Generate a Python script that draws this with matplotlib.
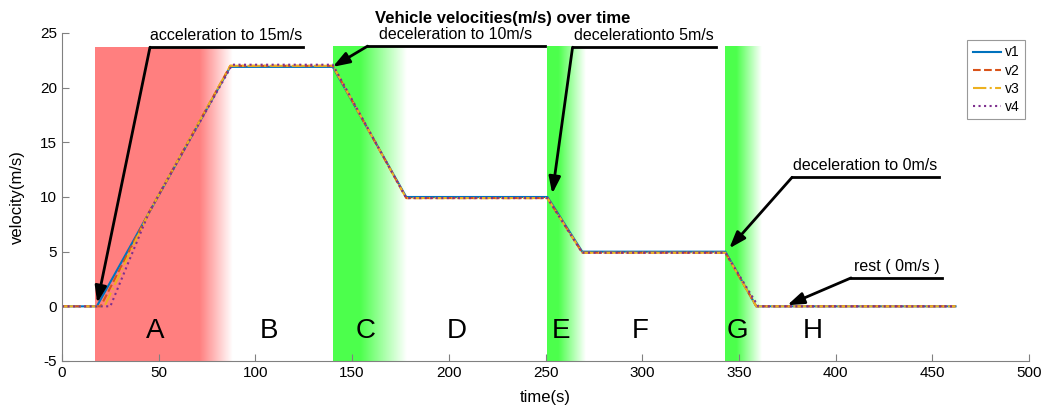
import numpy as np
import matplotlib.pyplot as plt

plt.rcParams['font.family'] = ['Liberation Sans', 'DejaVu Sans']
plt.rcParams['axes.unicode_minus'] = False

# velocity breakpoints (time in s, velocity in m/s)
t_v1 = [0, 18, 87, 140, 178, 251, 269, 343, 359, 462]
v_v1 = [0, 0, 21.9, 21.9, 10, 10, 5, 5, 0, 0]
t_v2 = [0, 20, 45, 87, 140, 178, 251, 269, 343, 359, 462]
v_v2 = [0, 0, 8.6, 22, 22, 9.9, 9.9, 4.9, 4.9, 0, 0]
t_v3 = [0, 22, 45, 87, 140, 178, 251, 269, 343, 359, 462]
v_v3 = [0, 0, 8.6, 22, 22, 9.9, 9.9, 4.9, 4.9, 0, 0]
t_v4 = [0, 25, 45, 88, 140, 178, 251, 269, 343, 360, 462]
v_v4 = [0, 0, 8.6, 22.1, 22.1, 9.9, 9.9, 4.9, 4.9, 0, 0]

# shaded phases: start, end of solid colour, end of fade, top
shade_red = [17, 71, 88, 23.7]
shade_green = [[140, 154, 178, 23.8], [251, 257, 271, 23.8], [343, 349, 362, 23.8]]

phase_letters = ['A', 'B', 'C', 'D', 'E', 'F', 'G', 'H']
phase_x = [48, 107, 157, 204, 258, 299, 349, 388]

# annotations: text, underline right end, knee (start of arrow), arrow tip, underline y
notes = [
    ('acceleration to 15m/s', 124.5, 45.5, (18.2, 0.3), 23.7),
    ('deceleration to 10m/s', 249.5, 158, (140, 21.9), 23.8),
    ('decelerationto 5m/s', 338, 264, (253.5, 10.3), 23.7),
    ('deceleration to 0m/s', 453.5, 377.5, (345, 5.3), 11.8),
    ('rest ( 0m/s )', 455, 408, (375, 0.1), 2.6),
]

fig = plt.figure(figsize=(10.54, 4.08), dpi=100)
ax = fig.add_axes([62/1054, 47/408, 967/1054, 328/408])

def shade(x0, x1, x2, top, rgb):  # solid block then fade to white
    n = 200
    xs = np.linspace(x0, x2, n)
    alpha = np.clip((x2 - xs) / (x2 - x1), 0, 1)
    img = np.zeros((1, n, 4))
    img[0, :, :3] = rgb
    img[0, :, 3] = alpha
    ax.imshow(img, extent=[x0, x2, -5, top], aspect='auto', zorder=0,
              interpolation='bilinear')

shade(*shade_red, (1.0, 0.5, 0.5))
for g in shade_green:
    shade(*g, (0.3, 1.0, 0.3))
ax.set_xlim(0, 500)
ax.set_ylim(-5, 25)

ax.plot(t_v1, v_v1, '-', color='#0072BD', lw=1.5, label='v1')
ax.plot(t_v2, v_v2, '--', color='#D95319', lw=1.5, label='v2')
ax.plot(t_v3, v_v3, '-.', color='#EDB120', lw=1.5, label='v3')
ax.plot(t_v4, v_v4, ':', color='#7E2F8E', lw=1.5, label='v4')

for s, x in zip(phase_letters, phase_x):
    ax.text(x, -2.3, s, fontsize=20, ha='center', va='center')

for txt, xr, xk, tip, yl in notes:
    ax.plot([xr, xk], [yl, yl], color='black', lw=2, clip_on=False)
    ax.annotate('', xy=tip, xytext=(xk, yl),
                arrowprops=dict(arrowstyle='-|>,head_length=1.0,head_width=0.35',
                                color='black', lw=2, shrinkA=0, shrinkB=0))
    ax.text((xr + xk) / 2, yl + 0.35, txt, fontsize=11.5, ha='center', va='bottom')

ax.spines['top'].set_visible(False)
ax.spines['right'].set_visible(False)
ax.spines['left'].set_color('#808080')
ax.spines['bottom'].set_color('#808080')
ax.tick_params(direction='in', length=5, color='#808080', labelsize=11)
ax.set_xticks(range(0, 501, 50))
ax.set_yticks(range(-5, 26, 5))
ax.set_xlabel('time(s)', fontsize=12, labelpad=7)
ax.set_ylabel('velocity(m/s)', fontsize=12, labelpad=11)
fig.text(503/1054, 390/408, 'Vehicle velocities(m/s) over time', fontsize=12,
         fontweight='bold', ha='center', va='center')

leg = ax.legend(loc='upper right', bbox_to_anchor=(0.996, 0.979), borderaxespad=0,
                fontsize=10, fancybox=False, edgecolor='#808080', handlelength=2.0,
                handletextpad=0.3, borderpad=0.4, labelspacing=0.3)
leg.get_frame().set_linewidth(0.8)

fig.savefig('out.png', dpi=100)
